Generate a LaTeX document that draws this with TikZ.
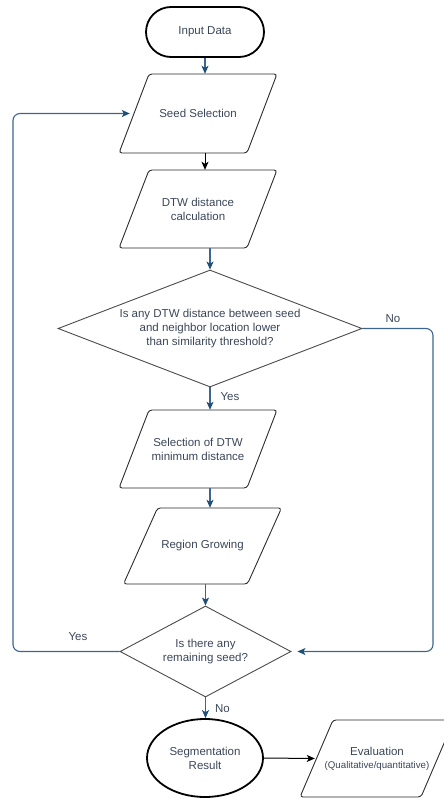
\documentclass[tikz,border=0pt]{standalone}
\usepackage{fontspec}
\setmainfont{Liberation Sans}
\usetikzlibrary{shapes.geometric,arrows.meta,calc}
\definecolor{lineblue}{HTML}{3D6590}
\definecolor{headblue}{HTML}{1F4E79}
\definecolor{txtc}{HTML}{3A4658}
\definecolor{bord}{HTML}{2B2B2B}
\newcommand\iobox[7]{% name, cx, cy, bottom width, slant, height, text
  \node[iotext, minimum width=#4pt+#5pt, minimum height=#6pt] (#1) at (#2,#3) {#7};
  \draw[ioshape] ($(#1.center)+({-(#4+#5)/2},{#6/2})$) -- ++(#4,0) -- ++(#5,-#6) -- ++(-#4,0) -- cycle;
}
\begin{document}
\begin{tikzpicture}[x=1pt,y=-1pt,
  font=\fontsize{11.5}{14}\selectfont, text=txtc,
  term/.style={draw=black, line width=1.8pt, rounded corners=25pt, minimum width=118pt, minimum height=50pt, inner sep=0pt},
  endell/.style={ellipse, draw=black, line width=1.8pt, minimum width=116pt, minimum height=78pt, inner sep=0pt, align=center},
  iotext/.style={rectangle, inner sep=0pt, align=center},
  ioshape/.style={draw=bord, line width=0.9pt, rounded corners=3pt},
  decis/.style={diamond, draw=bord!85, line width=0.9pt, inner sep=0pt},
  btxt/.style={align=center},
  barrow/.style={draw=lineblue, line width=1.1pt, -{Stealth[length=8pt,width=7pt,inset=2pt,fill=headblue,color=headblue]}},
  karrow/.style={draw=black, line width=1pt, -{Stealth[length=8pt,width=7pt,inset=2pt]}},
  lbl/.style={inner sep=0pt}
]
\clip (0,0) rectangle (444,798);
\useasboundingbox (0,0) rectangle (444,798);

% terminal
\node[term] (input) at (205,32) {Input Data};

% process boxes
\iobox{seed}{198}{113.5}{128}{30}{79}{Seed Selection}
\iobox{dtw}{198}{209}{128}{30}{78}{DTW distance\\calculation}
\iobox{sel}{198}{449}{128}{30}{78}{Selection of DTW\\minimum distance}
\iobox{region}{202.5}{546}{124}{34}{76}{Region Growing}

% decisions
\node[decis, minimum width=304pt, minimum height=117pt] (d1) at (210,328.5) {};
\node[btxt] at (d1.center) {Is any DTW distance between seed\\and neighbor location lower\\than similarity threshold?};
\node[decis, minimum width=171pt, minimum height=91pt] (d2) at (205.5,651.5) {};
\node[btxt] at (d2.center) {Is there any\\remaining seed?};

% end
\node[endell] (seg) at (205,758) {Segmentation\\Result};
\begingroup
\iobox{eval}{377}{758.5}{121}{33}{77}{Evaluation\\[-1pt]{\fontsize{9.7}{12}\selectfont (Qualitative/quantitative)}}
\endgroup

% helper coordinates
\coordinate (rcol) at (433,0);
\coordinate (lcol) at (13,0);
\coordinate (d2in) at ($(d2.east)+(6,0)$);
\coordinate (seedin) at ($(seed.west)+(11,0)$);
\coordinate (evalin) at ($(eval.west)+(15,0)$);

% connectors
\draw[barrow] (input.south) -- (input.south |- seed.north);
\draw[karrow] (input.south |- seed.south) -- (input.south |- dtw.north);
\draw[barrow] (d1.north |- dtw.south) -- (d1.north);
\draw[barrow] (d1.south) -- (d1.south |- sel.north) node[lbl, pos=0.4, right=10pt] {Yes};
\draw[barrow] (d1.south |- sel.south) -- (d1.south |- region.north);
\draw[barrow] (d2.north |- region.south) -- (d2.north);
\draw[barrow] (d2.south) -- (d2.south |- seg.north) node[lbl, pos=0.55, right=9pt] {No};
\draw[karrow] (seg.east) -- (evalin);
\draw[barrow, rounded corners=7pt] (d1.east) -- (d1.east -| rcol) |- (d2in);
\draw[barrow, rounded corners=7pt] (d2.west) -- (d2.west -| lcol) |- (seedin);

% branch labels
\node[lbl] at (393,319) {No};
\node[lbl] at (78,637) {Yes};
\end{tikzpicture}
\end{document}
